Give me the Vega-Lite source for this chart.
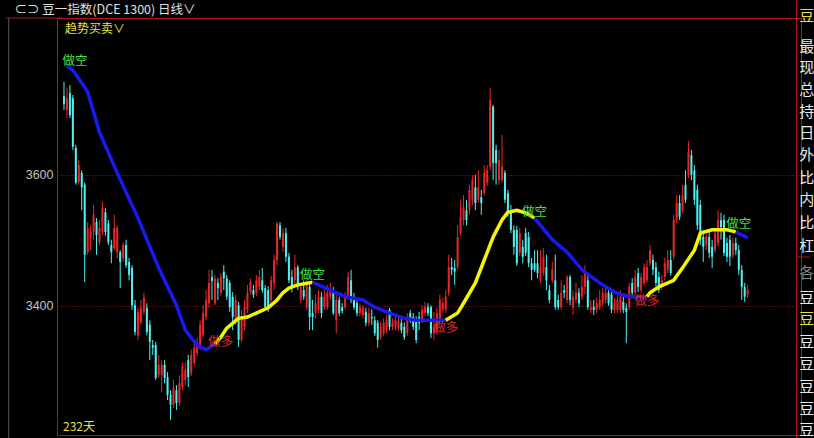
{
"$schema":"https://vega.github.io/schema/vega-lite/v6.json",
"width":744,"height":417,
"autosize":{"type":"none"},
"padding":{"left":57,"top":18,"right":13,"bottom":3},
"background":"#000000",
"config":{"view":{"stroke":"#b41414","strokeWidth":1},"font":"Noto Sans CJK SC"},
"resolve":{"scale":{"color":"independent"}},
"datasets":{
"one":[{}],
"candles":[
{"i":0,"o":3720,"h":3742,"l":3699,"c":3708},
{"i":1,"o":3699,"h":3733,"l":3687,"c":3717},
{"i":2,"o":3725,"h":3737,"l":3687,"c":3691},
{"i":3,"o":3717,"h":3722,"l":3638,"c":3643},
{"i":4,"o":3641,"h":3646,"l":3585,"c":3588},
{"i":5,"o":3589,"h":3623,"l":3585,"c":3615},
{"i":6,"o":3603,"h":3607,"l":3546,"c":3581},
{"i":7,"o":3585,"h":3588,"l":3436,"c":3478},
{"i":8,"o":3482,"h":3528,"l":3478,"c":3519},
{"i":9,"o":3504,"h":3523,"l":3485,"c":3513},
{"i":10,"o":3513,"h":3554,"l":3501,"c":3539},
{"i":11,"o":3528,"h":3534,"l":3478,"c":3508},
{"i":12,"o":3497,"h":3531,"l":3493,"c":3519},
{"i":13,"o":3513,"h":3559,"l":3508,"c":3549},
{"i":14,"o":3543,"h":3549,"l":3507,"c":3513},
{"i":15,"o":3526,"h":3531,"l":3493,"c":3497},
{"i":16,"o":3493,"h":3501,"l":3465,"c":3482},
{"i":17,"o":3488,"h":3539,"l":3485,"c":3519},
{"i":18,"o":3482,"h":3523,"l":3473,"c":3519},
{"i":19,"o":3482,"h":3485,"l":3427,"c":3467},
{"i":20,"o":3473,"h":3497,"l":3467,"c":3493},
{"i":21,"o":3493,"h":3501,"l":3458,"c":3462},
{"i":22,"o":3467,"h":3473,"l":3439,"c":3447},
{"i":23,"o":3458,"h":3462,"l":3394,"c":3401},
{"i":24,"o":3401,"h":3409,"l":3355,"c":3360},
{"i":25,"o":3355,"h":3397,"l":3348,"c":3391},
{"i":26,"o":3375,"h":3409,"l":3371,"c":3397},
{"i":27,"o":3391,"h":3420,"l":3386,"c":3412},
{"i":28,"o":3397,"h":3404,"l":3355,"c":3360},
{"i":29,"o":3371,"h":3378,"l":3317,"c":3345},
{"i":30,"o":3340,"h":3348,"l":3325,"c":3336},
{"i":31,"o":3340,"h":3345,"l":3287,"c":3290},
{"i":32,"o":3294,"h":3325,"l":3290,"c":3310},
{"i":33,"o":3294,"h":3317,"l":3268,"c":3310},
{"i":34,"o":3310,"h":3317,"l":3282,"c":3290},
{"i":35,"o":3291,"h":3299,"l":3256,"c":3264},
{"i":36,"o":3264,"h":3271,"l":3226,"c":3249},
{"i":37,"o":3249,"h":3287,"l":3244,"c":3275},
{"i":38,"o":3271,"h":3279,"l":3241,"c":3252},
{"i":39,"o":3252,"h":3294,"l":3247,"c":3282},
{"i":40,"o":3276,"h":3314,"l":3271,"c":3307},
{"i":41,"o":3287,"h":3314,"l":3279,"c":3302},
{"i":42,"o":3317,"h":3325,"l":3276,"c":3291},
{"i":43,"o":3297,"h":3333,"l":3293,"c":3325},
{"i":44,"o":3313,"h":3343,"l":3308,"c":3336},
{"i":45,"o":3328,"h":3351,"l":3323,"c":3343},
{"i":46,"o":3337,"h":3378,"l":3333,"c":3371},
{"i":47,"o":3355,"h":3401,"l":3351,"c":3389},
{"i":48,"o":3383,"h":3424,"l":3378,"c":3409},
{"i":49,"o":3404,"h":3455,"l":3397,"c":3435},
{"i":50,"o":3444,"h":3455,"l":3409,"c":3438},
{"i":51,"o":3404,"h":3447,"l":3401,"c":3442},
{"i":52,"o":3435,"h":3442,"l":3409,"c":3427},
{"i":53,"o":3420,"h":3450,"l":3415,"c":3444},
{"i":54,"o":3452,"h":3462,"l":3424,"c":3442},
{"i":55,"o":3442,"h":3447,"l":3409,"c":3414},
{"i":56,"o":3435,"h":3439,"l":3391,"c":3398},
{"i":57,"o":3414,"h":3421,"l":3363,"c":3383},
{"i":58,"o":3378,"h":3417,"l":3371,"c":3409},
{"i":59,"o":3401,"h":3406,"l":3337,"c":3348},
{"i":60,"o":3348,"h":3394,"l":3345,"c":3383},
{"i":61,"o":3368,"h":3409,"l":3363,"c":3398},
{"i":62,"o":3394,"h":3432,"l":3389,"c":3420},
{"i":63,"o":3421,"h":3442,"l":3417,"c":3436},
{"i":64,"o":3424,"h":3432,"l":3412,"c":3417},
{"i":65,"o":3420,"h":3447,"l":3415,"c":3439},
{"i":66,"o":3429,"h":3455,"l":3424,"c":3444},
{"i":67,"o":3439,"h":3458,"l":3420,"c":3424},
{"i":68,"o":3427,"h":3432,"l":3394,"c":3398},
{"i":69,"o":3424,"h":3430,"l":3391,"c":3398},
{"i":70,"o":3409,"h":3446,"l":3401,"c":3439},
{"i":71,"o":3435,"h":3478,"l":3424,"c":3470},
{"i":72,"o":3470,"h":3528,"l":3462,"c":3526},
{"i":73,"o":3523,"h":3528,"l":3501,"c":3505},
{"i":74,"o":3490,"h":3519,"l":3482,"c":3511},
{"i":75,"o":3511,"h":3519,"l":3467,"c":3475},
{"i":76,"o":3475,"h":3481,"l":3435,"c":3439},
{"i":77,"o":3444,"h":3455,"l":3421,"c":3429},
{"i":78,"o":3439,"h":3478,"l":3432,"c":3459},
{"i":79,"o":3459,"h":3462,"l":3424,"c":3429},
{"i":80,"o":3409,"h":3435,"l":3404,"c":3429},
{"i":81,"o":3424,"h":3439,"l":3409,"c":3414},
{"i":82,"o":3398,"h":3439,"l":3394,"c":3435},
{"i":83,"o":3429,"h":3435,"l":3363,"c":3383},
{"i":84,"o":3389,"h":3409,"l":3363,"c":3383},
{"i":85,"o":3389,"h":3417,"l":3381,"c":3404},
{"i":86,"o":3394,"h":3424,"l":3389,"c":3414},
{"i":87,"o":3414,"h":3421,"l":3381,"c":3389},
{"i":88,"o":3398,"h":3424,"l":3394,"c":3414},
{"i":89,"o":3398,"h":3432,"l":3394,"c":3420},
{"i":90,"o":3414,"h":3435,"l":3409,"c":3424},
{"i":91,"o":3424,"h":3429,"l":3386,"c":3389},
{"i":92,"o":3378,"h":3417,"l":3358,"c":3409},
{"i":93,"o":3409,"h":3414,"l":3384,"c":3389},
{"i":94,"o":3398,"h":3404,"l":3388,"c":3392},
{"i":95,"o":3398,"h":3421,"l":3394,"c":3414},
{"i":96,"o":3414,"h":3452,"l":3409,"c":3444},
{"i":97,"o":3439,"h":3455,"l":3404,"c":3409},
{"i":98,"o":3414,"h":3420,"l":3394,"c":3398},
{"i":99,"o":3404,"h":3409,"l":3384,"c":3389},
{"i":100,"o":3389,"h":3404,"l":3384,"c":3398},
{"i":101,"o":3386,"h":3401,"l":3381,"c":3397},
{"i":102,"o":3391,"h":3397,"l":3369,"c":3374},
{"i":103,"o":3374,"h":3397,"l":3369,"c":3389},
{"i":104,"o":3383,"h":3395,"l":3371,"c":3381},
{"i":105,"o":3378,"h":3384,"l":3354,"c":3358},
{"i":106,"o":3374,"h":3378,"l":3336,"c":3348},
{"i":107,"o":3352,"h":3375,"l":3348,"c":3368},
{"i":108,"o":3358,"h":3381,"l":3354,"c":3374},
{"i":109,"o":3363,"h":3386,"l":3358,"c":3378},
{"i":110,"o":3394,"h":3397,"l":3363,"c":3368},
{"i":111,"o":3368,"h":3381,"l":3363,"c":3374},
{"i":112,"o":3368,"h":3386,"l":3363,"c":3378},
{"i":113,"o":3366,"h":3384,"l":3362,"c":3377},
{"i":114,"o":3374,"h":3381,"l":3358,"c":3363},
{"i":115,"o":3368,"h":3375,"l":3348,"c":3352},
{"i":116,"o":3358,"h":3389,"l":3354,"c":3383},
{"i":117,"o":3389,"h":3394,"l":3374,"c":3378},
{"i":118,"o":3383,"h":3389,"l":3363,"c":3368},
{"i":119,"o":3378,"h":3384,"l":3343,"c":3348},
{"i":120,"o":3383,"h":3391,"l":3363,"c":3374},
{"i":121,"o":3378,"h":3401,"l":3374,"c":3394},
{"i":122,"o":3389,"h":3406,"l":3384,"c":3398},
{"i":123,"o":3398,"h":3404,"l":3384,"c":3389},
{"i":124,"o":3398,"h":3401,"l":3351,"c":3358},
{"i":125,"o":3358,"h":3391,"l":3348,"c":3368},
{"i":126,"o":3363,"h":3397,"l":3355,"c":3389},
{"i":127,"o":3378,"h":3417,"l":3374,"c":3409},
{"i":128,"o":3394,"h":3412,"l":3389,"c":3404},
{"i":129,"o":3394,"h":3424,"l":3389,"c":3414},
{"i":130,"o":3420,"h":3478,"l":3415,"c":3459},
{"i":131,"o":3459,"h":3473,"l":3447,"c":3455},
{"i":132,"o":3458,"h":3470,"l":3432,"c":3452},
{"i":133,"o":3459,"h":3523,"l":3455,"c":3505},
{"i":134,"o":3511,"h":3562,"l":3507,"c":3536},
{"i":135,"o":3531,"h":3569,"l":3523,"c":3551},
{"i":136,"o":3546,"h":3562,"l":3523,"c":3531},
{"i":137,"o":3546,"h":3585,"l":3539,"c":3577},
{"i":138,"o":3562,"h":3600,"l":3554,"c":3592},
{"i":139,"o":3581,"h":3600,"l":3546,"c":3557},
{"i":140,"o":3562,"h":3607,"l":3557,"c":3581},
{"i":141,"o":3566,"h":3577,"l":3539,"c":3557},
{"i":142,"o":3572,"h":3615,"l":3568,"c":3603},
{"i":143,"o":3588,"h":3615,"l":3583,"c":3607},
{"i":144,"o":3612,"h":3733,"l":3607,"c":3714},
{"i":145,"o":3704,"h":3707,"l":3592,"c":3618},
{"i":146,"o":3638,"h":3646,"l":3585,"c":3618},
{"i":147,"o":3592,"h":3638,"l":3585,"c":3623},
{"i":148,"o":3592,"h":3661,"l":3588,"c":3612},
{"i":149,"o":3603,"h":3607,"l":3557,"c":3562},
{"i":150,"o":3572,"h":3577,"l":3536,"c":3542},
{"i":151,"o":3542,"h":3554,"l":3511,"c":3516},
{"i":152,"o":3516,"h":3523,"l":3478,"c":3490},
{"i":153,"o":3516,"h":3522,"l":3461,"c":3465},
{"i":154,"o":3481,"h":3519,"l":3476,"c":3511},
{"i":155,"o":3490,"h":3501,"l":3465,"c":3475},
{"i":156,"o":3511,"h":3519,"l":3476,"c":3481},
{"i":157,"o":3505,"h":3513,"l":3459,"c":3465},
{"i":158,"o":3465,"h":3473,"l":3439,"c":3455},
{"i":159,"o":3465,"h":3485,"l":3452,"c":3455},
{"i":160,"o":3465,"h":3485,"l":3442,"c":3450},
{"i":161,"o":3439,"h":3485,"l":3435,"c":3459},
{"i":162,"o":3450,"h":3488,"l":3446,"c":3475},
{"i":163,"o":3459,"h":3478,"l":3424,"c":3439},
{"i":164,"o":3424,"h":3432,"l":3404,"c":3409},
{"i":165,"o":3439,"h":3467,"l":3435,"c":3455},
{"i":166,"o":3439,"h":3478,"l":3394,"c":3398},
{"i":167,"o":3409,"h":3417,"l":3394,"c":3398},
{"i":168,"o":3398,"h":3439,"l":3394,"c":3420},
{"i":169,"o":3424,"h":3432,"l":3412,"c":3420},
{"i":170,"o":3409,"h":3447,"l":3404,"c":3444},
{"i":171,"o":3444,"h":3447,"l":3401,"c":3409},
{"i":172,"o":3398,"h":3424,"l":3386,"c":3414},
{"i":173,"o":3409,"h":3435,"l":3404,"c":3420},
{"i":174,"o":3420,"h":3427,"l":3398,"c":3404},
{"i":175,"o":3414,"h":3447,"l":3409,"c":3429},
{"i":176,"o":3429,"h":3462,"l":3417,"c":3450},
{"i":177,"o":3439,"h":3447,"l":3394,"c":3398},
{"i":178,"o":3394,"h":3409,"l":3389,"c":3398},
{"i":179,"o":3398,"h":3409,"l":3386,"c":3394},
{"i":180,"o":3394,"h":3412,"l":3389,"c":3404},
{"i":181,"o":3398,"h":3424,"l":3394,"c":3409},
{"i":182,"o":3404,"h":3427,"l":3400,"c":3420},
{"i":183,"o":3409,"h":3429,"l":3404,"c":3420},
{"i":184,"o":3420,"h":3424,"l":3400,"c":3404},
{"i":185,"o":3417,"h":3424,"l":3389,"c":3394},
{"i":186,"o":3394,"h":3412,"l":3389,"c":3404},
{"i":187,"o":3394,"h":3417,"l":3389,"c":3409},
{"i":188,"o":3394,"h":3424,"l":3389,"c":3414},
{"i":189,"o":3406,"h":3414,"l":3389,"c":3394},
{"i":190,"o":3397,"h":3404,"l":3343,"c":3391},
{"i":191,"o":3398,"h":3435,"l":3394,"c":3429},
{"i":192,"o":3435,"h":3442,"l":3415,"c":3420},
{"i":193,"o":3420,"h":3455,"l":3415,"c":3444},
{"i":194,"o":3450,"h":3458,"l":3421,"c":3429},
{"i":195,"o":3424,"h":3450,"l":3420,"c":3444},
{"i":196,"o":3435,"h":3465,"l":3430,"c":3459},
{"i":197,"o":3439,"h":3470,"l":3435,"c":3459},
{"i":198,"o":3465,"h":3493,"l":3461,"c":3485},
{"i":199,"o":3470,"h":3478,"l":3447,"c":3455},
{"i":200,"o":3459,"h":3467,"l":3430,"c":3435},
{"i":201,"o":3444,"h":3452,"l":3420,"c":3424},
{"i":202,"o":3429,"h":3447,"l":3424,"c":3439},
{"i":203,"o":3444,"h":3473,"l":3439,"c":3465},
{"i":204,"o":3455,"h":3485,"l":3450,"c":3470},
{"i":205,"o":3470,"h":3485,"l":3446,"c":3450},
{"i":206,"o":3475,"h":3539,"l":3470,"c":3531},
{"i":207,"o":3531,"h":3569,"l":3526,"c":3557},
{"i":208,"o":3557,"h":3569,"l":3531,"c":3536},
{"i":209,"o":3546,"h":3585,"l":3542,"c":3569},
{"i":210,"o":3585,"h":3607,"l":3557,"c":3562},
{"i":211,"o":3600,"h":3652,"l":3595,"c":3635},
{"i":212,"o":3630,"h":3638,"l":3592,"c":3600},
{"i":213,"o":3607,"h":3615,"l":3554,"c":3562},
{"i":214,"o":3577,"h":3585,"l":3516,"c":3523},
{"i":215,"o":3554,"h":3562,"l":3493,"c":3501},
{"i":216,"o":3505,"h":3516,"l":3467,"c":3490},
{"i":217,"o":3493,"h":3516,"l":3485,"c":3505},
{"i":218,"o":3505,"h":3513,"l":3473,"c":3481},
{"i":219,"o":3490,"h":3501,"l":3458,"c":3475},
{"i":220,"o":3485,"h":3519,"l":3481,"c":3511},
{"i":221,"o":3496,"h":3546,"l":3491,"c":3531},
{"i":222,"o":3531,"h":3542,"l":3501,"c":3520},
{"i":223,"o":3531,"h":3539,"l":3476,"c":3481},
{"i":224,"o":3496,"h":3504,"l":3467,"c":3475},
{"i":225,"o":3501,"h":3508,"l":3461,"c":3475},
{"i":226,"o":3478,"h":3504,"l":3473,"c":3496},
{"i":227,"o":3496,"h":3504,"l":3478,"c":3485},
{"i":228,"o":3485,"h":3493,"l":3447,"c":3455},
{"i":229,"o":3455,"h":3462,"l":3409,"c":3429},
{"i":230,"o":3429,"h":3435,"l":3406,"c":3414},
{"i":231,"o":3417,"h":3432,"l":3412,"c":3424}
],
"trend":[
{"i":1,"p":3766,"s":"1","k":"down"},{"i":3,"p":3760,"s":"1","k":"down"},{"i":8,"p":3727,"s":"1","k":"down"},{"i":12,"p":3665,"s":"1","k":"down"},{"i":18,"p":3603,"s":"1","k":"down"},{"i":25,"p":3534,"s":"1","k":"down"},{"i":32,"p":3458,"s":"1","k":"down"},{"i":38,"p":3401,"s":"1","k":"down"},{"i":41,"p":3363,"s":"1","k":"down"},{"i":45,"p":3340,"s":"1","k":"down"},{"i":48,"p":3333,"s":"1","k":"down"},{"i":51,"p":3342,"s":"1","k":"down"},
{"i":51,"p":3342,"s":"2","k":"up"},{"i":53,"p":3352,"s":"2","k":"up"},{"i":55,"p":3366,"s":"2","k":"up"},{"i":59,"p":3381,"s":"2","k":"up"},{"i":62,"p":3383,"s":"2","k":"up"},{"i":65,"p":3389,"s":"2","k":"up"},{"i":69,"p":3397,"s":"2","k":"up"},{"i":72,"p":3409,"s":"2","k":"up"},{"i":74,"p":3420,"s":"2","k":"up"},{"i":76,"p":3427,"s":"2","k":"up"},{"i":79,"p":3432,"s":"2","k":"up"},{"i":84,"p":3436,"s":"2","k":"up"},
{"i":84,"p":3436,"s":"3","k":"down"},{"i":90,"p":3424,"s":"3","k":"down"},{"i":95,"p":3414,"s":"3","k":"down"},{"i":101,"p":3409,"s":"3","k":"down"},{"i":105,"p":3398,"s":"3","k":"down"},{"i":110,"p":3389,"s":"3","k":"down"},{"i":115,"p":3381,"s":"3","k":"down"},{"i":119,"p":3378,"s":"3","k":"down"},{"i":129,"p":3378,"s":"3","k":"down"},
{"i":129,"p":3378,"s":"4","k":"up"},{"i":133,"p":3389,"s":"4","k":"up"},{"i":135,"p":3404,"s":"4","k":"up"},{"i":139,"p":3435,"s":"4","k":"up"},{"i":142,"p":3470,"s":"4","k":"up"},{"i":145,"p":3505,"s":"4","k":"up"},{"i":148,"p":3531,"s":"4","k":"up"},{"i":150,"p":3543,"s":"4","k":"up"},{"i":153,"p":3546,"s":"4","k":"up"},{"i":156,"p":3542,"s":"4","k":"up"},{"i":159,"p":3534,"s":"4","k":"up"},
{"i":159,"p":3534,"s":"5","k":"down"},{"i":165,"p":3501,"s":"5","k":"down"},{"i":170,"p":3482,"s":"5","k":"down"},{"i":175,"p":3455,"s":"5","k":"down"},{"i":181,"p":3435,"s":"5","k":"down"},{"i":186,"p":3421,"s":"5","k":"down"},{"i":191,"p":3414,"s":"5","k":"down"},{"i":197,"p":3414,"s":"5","k":"down"},
{"i":197,"p":3414,"s":"6","k":"up"},{"i":198,"p":3420,"s":"6","k":"up"},{"i":201,"p":3429,"s":"6","k":"up"},{"i":206,"p":3439,"s":"6","k":"up"},{"i":209,"p":3458,"s":"6","k":"up"},{"i":213,"p":3485,"s":"6","k":"up"},{"i":215,"p":3511,"s":"6","k":"up"},{"i":219,"p":3516,"s":"6","k":"up"},{"i":224,"p":3516,"s":"6","k":"up"},{"i":227,"p":3513,"s":"6","k":"up"},
{"i":227,"p":3513,"s":"7","k":"down"},{"i":231,"p":3504,"s":"7","k":"down"}
],
"labels":[
{"t":"做空","i":3.7,"p":3774},{"t":"做多","i":53,"p":3345},{"t":"做空","i":84,"p":3447},{"t":"做多","i":129,"p":3366},{"t":"做空","i":159,"p":3543},{"t":"做多","i":197,"p":3407},{"t":"做空","i":228,"p":3525}
],
"side":[
{"t":"豆","p":3843,"k":"y"},{"t":"最","p":3795,"k":"w"},{"t":"现","p":3763,"k":"w"},{"t":"总","p":3730,"k":"w"},{"t":"持","p":3696,"k":"w"},{"t":"日","p":3664,"k":"w"},{"t":"外","p":3630,"k":"w"},{"t":"比","p":3595,"k":"w"},{"t":"内","p":3562,"k":"w"},{"t":"比","p":3526,"k":"w"},{"t":"杠","p":3491,"k":"w"},{"t":"各","p":3450,"k":"g"},{"t":"豆","p":3412,"k":"w"},{"t":"豆","p":3380,"k":"y"},{"t":"豆","p":3345,"k":"w"},{"t":"豆","p":3311,"k":"w"},{"t":"豆","p":3276,"k":"w"},{"t":"豆","p":3242,"k":"w"},{"t":"豆","p":3210,"k":"w"}
]
},
"layer":[
{"data":{"name":"candles"},"mark":{"type":"rule","strokeWidth":1},
 "encoding":{
  "x":{"field":"i","type":"quantitative","scale":{"domain":[-0.667,247.333],"nice":false,"zero":false},"axis":null},
  "y":{"field":"h","type":"quantitative","scale":{"domain":[3202.8,3839.5],"nice":false,"zero":false},
       "axis":{"values":[3400,3600],"format":"d","title":null,"grid":true,"gridDash":[1,2],"gridColor":"#a01414","gridWidth":1,"ticks":false,"domain":false,"labelColor":"#c0c0c0","labelFont":"Liberation Sans","labelFontSize":12.5,"labelPadding":4}},
  "y2":{"field":"l"},
  "color":{"condition":{"test":"datum.c>=datum.o","value":"#e8262a"},"value":"#50f0f0"}}},
{"data":{"name":"candles"},"mark":{"type":"bar","size":2},
 "encoding":{
  "x":{"field":"i","type":"quantitative","scale":{"domain":[-0.667,247.333],"nice":false,"zero":false}},
  "y":{"field":"o","type":"quantitative","scale":{"domain":[3202.8,3839.5],"nice":false,"zero":false}},
  "y2":{"field":"c"},
  "color":{"condition":{"test":"datum.c>=datum.o","value":"#e8262a"},"value":"#50f0f0"}}},
{"data":{"name":"trend"},"mark":{"type":"line","strokeWidth":3.5},
 "encoding":{
  "x":{"field":"i","type":"quantitative","scale":{"domain":[-0.667,247.333],"nice":false,"zero":false}},
  "y":{"field":"p","type":"quantitative","scale":{"domain":[3202.8,3839.5],"nice":false,"zero":false}},
  "detail":{"field":"s","type":"nominal"},
  "color":{"field":"k","type":"nominal","scale":{"domain":["down","up"],"range":["#1a1af0","#f5f500"]},"legend":null}}},
{"data":{"name":"labels"},"mark":{"type":"text","fontSize":12.5,"font":"Noto Sans CJK SC","baseline":"middle","align":"center"},
 "encoding":{
  "x":{"field":"i","type":"quantitative","scale":{"domain":[-0.667,247.333],"nice":false,"zero":false}},
  "y":{"field":"p","type":"quantitative","scale":{"domain":[3202.8,3839.5],"nice":false,"zero":false}},
  "text":{"field":"t"},
  "color":{"field":"t","type":"nominal","scale":{"domain":["做空","做多"],"range":["#44e044","#e02828"]},"legend":null}}},
{"data":{"name":"side"},"mark":{"type":"text","fontSize":15,"font":"Noto Sans CJK SC","baseline":"middle","align":"left"},
 "encoding":{
  "x":{"datum":248.4,"type":"quantitative"},
  "y":{"field":"p","type":"quantitative","scale":{"domain":[3202.8,3839.5],"nice":false,"zero":false}},
  "text":{"field":"t"},
  "color":{"field":"k","type":"nominal","scale":{"domain":["w","y","g"],"range":["#e8e8e8","#e8e040","#8a8a8a"]},"legend":null}}},
{"data":{"name":"one"},"mark":{"type":"text","fontSize":12.5,"font":"Noto Sans CJK SC","align":"left","baseline":"middle","color":"#e0e0e0","text":"⊂⊃ 豆一指数(DCE 1300)  日线∨"},
 "encoding":{"x":{"datum":-16.7,"type":"quantitative"},"y":{"datum":3851.7,"type":"quantitative"}}},
{"data":{"name":"one"},"mark":{"type":"text","fontSize":12,"font":"Noto Sans CJK SC","align":"left","baseline":"middle","color":"#e8e040","text":"趋势买卖∨"},
 "encoding":{"x":{"datum":0.33,"type":"quantitative"},"y":{"datum":3822.7,"type":"quantitative"}}},
{"data":{"name":"one"},"mark":{"type":"text","fontSize":12,"font":"Noto Sans CJK SC","align":"left","baseline":"middle","color":"#e8e040","text":"232天"},
 "encoding":{"x":{"datum":-0.33,"type":"quantitative"},"y":{"datum":3215,"type":"quantitative"}}},
{"data":{"name":"one"},"mark":{"type":"rule","color":"#b41414","strokeWidth":1},
 "encoding":{"x":{"datum":247.5,"type":"quantitative"},"y":{"datum":3867,"type":"quantitative"},"y2":{"datum":3198}}},
{"data":{"name":"one"},"mark":{"type":"rule","color":"#b41414","strokeWidth":1},
 "encoding":{"x":{"datum":247.5,"type":"quantitative"},"x2":{"datum":252},"y":{"datum":3474.6,"type":"quantitative"}}},
{"data":{"name":"one"},"mark":{"type":"rule","color":"#b41414","strokeWidth":1},
 "encoding":{"x":{"datum":-19.7,"type":"quantitative"},"x2":{"datum":-0.667},"y":{"datum":3839.5,"type":"quantitative"}}},
{"data":{"name":"one"},"mark":{"type":"rule","color":"#5a5a5a","strokeWidth":1},
 "encoding":{"x":{"datum":-18.67,"type":"quantitative"},"y":{"datum":3839.5,"type":"quantitative"},"y2":{"datum":3198}}}
]
}
